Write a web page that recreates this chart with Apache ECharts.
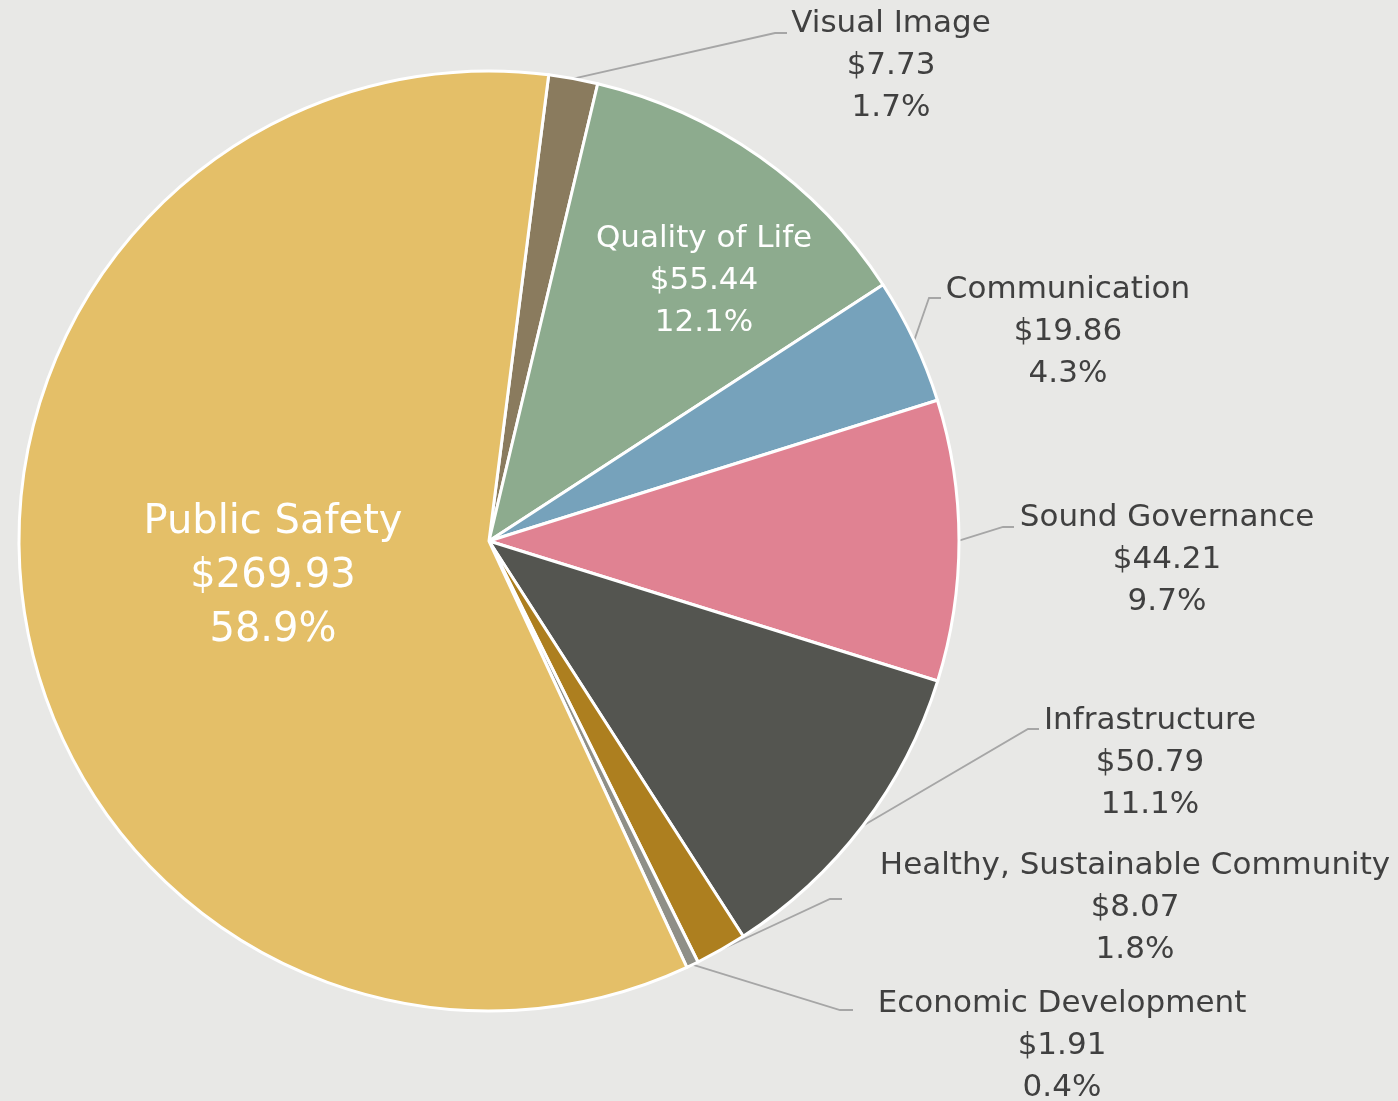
<!DOCTYPE html>
<html>
<head>
<meta charset="utf-8">
<script src="https://cdn.jsdelivr.net/npm/echarts@6/dist/echarts.min.js"></script>
<style>
html,body{margin:0;padding:0;background:#E8E8E6;}
#chart{width:1398px;height:1101px;}
</style>
</head>
<body>
<div id="chart"></div>
<script>
// ---- data ----
const categories = ["Visual Image", "Quality of Life", "Communication", "Sound Governance",
  "Infrastructure", "Healthy, Sustainable Community", "Economic Development", "Public Safety"];
const values = [7.73, 55.44, 19.86, 44.21, 50.79, 8.07, 1.91, 269.93];

// ---- styles / layout ----
const colors = ["#8A7B5E", "#8DAB8E", "#76A2BB", "#E08292", "#545550", "#AD7F1F", "#8F8F87", "#E4BF68"];
const insideLabel = [false, true, false, false, false, false, false, true];
// label centres [x, y] and leader elbows [[x,y],[x,y]] (layout only)
const labelPos = [[891, 66], [704, 281], [1068, 332], [1167, 560], [1150, 763], [1135, 908], [1062, 1046], [273, 577]];
const elbows = [
  [[775, 33], [787, 33]],
  null,
  [[929, 298], [941, 298]],
  [[1003, 527], [1014, 527]],
  [[1028, 729], [1039, 729]],
  [[830, 899], [842, 899]],
  [[840, 1010], [853, 1010]],
  null
];

const chart = echarts.init(document.getElementById('chart'), null, {renderer: 'canvas'});
const FONT = '"DejaVu Sans", sans-serif';

const data = categories.map((name, i) => {
  const inside = insideLabel[i];
  const big = i === 7;
  return {
    name: name,
    value: values[i],
    itemStyle: {color: colors[i]},
    label: {
      color: inside ? '#FFFFFF' : '#404040',
      fontSize: big ? 40 : 31,
      lineHeight: big ? 54 : 42
    },
    labelLine: {show: !inside}
  };
});

chart.setOption({
  backgroundColor: '#E8E8E6',
  animation: false,
  series: [{
    type: 'pie',
    center: [489, 541],
    radius: 470,
    startAngle: 82.7,
    clockwise: true,
    percentPrecision: 1,
    avoidLabelOverlap: false,
    itemStyle: {borderColor: '#FFFFFF', borderWidth: 3},
    label: {
      show: true,
      position: 'outside',
      fontFamily: FONT,
      align: 'center',
      formatter: p => p.name + '\n$' + Number(p.value).toFixed(2) + '\n' + p.percent.toFixed(1) + '%'
    },
    labelLine: {show: true, length: 20, length2: 10, lineStyle: {color: '#A6A6A6', width: 1.8}},
    emphasis: {disabled: true},
    labelLayout: function (params) {
      const i = params.dataIndex;
      const res = {x: labelPos[i][0], y: labelPos[i][1], align: 'center', verticalAlign: 'middle'};
      if (elbows[i] && params.labelLinePoints) {
        res.labelLinePoints = [params.labelLinePoints[0], elbows[i][0], elbows[i][1]];
      }
      return res;
    },
    data: data
  }]
});
</script>
</body>
</html>
